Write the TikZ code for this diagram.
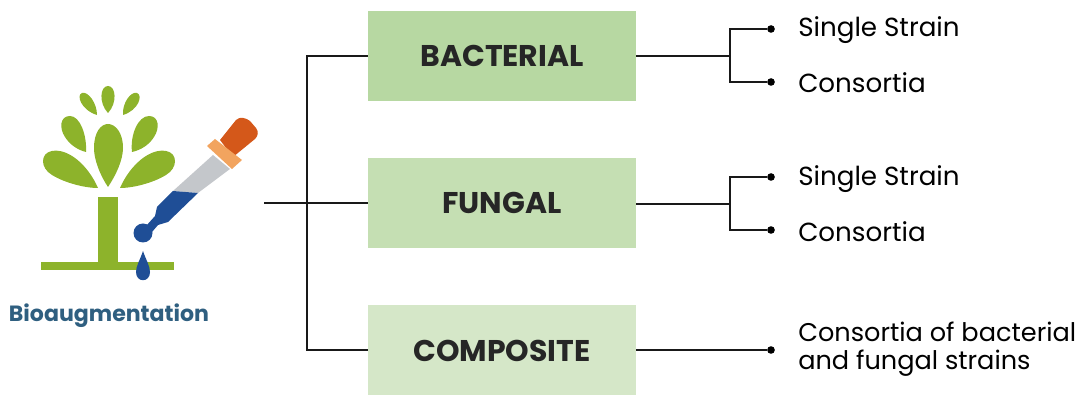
\documentclass[tikz,border=0pt]{standalone}
\usepackage{fontspec}
\setmainfont{Poppins}
\usepackage{tikz}
\tikzset{
  kindbox/.style={minimum width=6.7cm,minimum height=2.25cm,inner sep=0pt,text height=0.52cm,text depth=0pt,font=\fontsize{21.3}{24}\selectfont\bfseries,text=black!85},
  tipdot/.style={circle,fill=black,inner sep=0pt,minimum size=0.19cm},
  leaftext/.style={anchor=west,inner sep=0pt,align=left,font=\fontsize{18.6}{19.6}\selectfont},
  wire/.style={line width=1.6pt,black!90},
}
\definecolor{boxone}{HTML}{B7D8A2}
\definecolor{boxtwo}{HTML}{C5DFB3}
\definecolor{boxthree}{HTML}{D5E7C8}
\definecolor{plant}{HTML}{8DB32B}
\definecolor{dropblue}{HTML}{1F4E96}
\definecolor{capred}{HTML}{D4581A}
\definecolor{collar}{HTML}{F2A45F}
\definecolor{glass}{HTML}{C4C7CB}
\definecolor{labelblue}{HTML}{2F5F80}
\begin{document}
\begin{tikzpicture}[x=0.025cm,y=-0.025cm]
\useasboundingbox (0,0) rectangle (1082,398);
% plant
\fill[plant] (108,187) .. controls (100,175) and (94,160) .. (94,148) .. controls (94,132) and (101,124) .. (108,124) .. controls (115,124) and (123,132) .. (123,148) .. controls (123,160) and (116,175) .. (108,187) -- cycle;
\fill[plant] (98,188) .. controls (88,165) and (68,148) .. (52,151) .. controls (40,153) and (40,168) .. (52,175) .. controls (65,183) and (85,188) .. (98,188) -- cycle;
\fill[plant] (120,188) .. controls (130,165) and (150,148) .. (166,151) .. controls (178,153) and (178,168) .. (166,175) .. controls (153,183) and (133,188) .. (120,188) -- cycle;
\fill[plant] (86,152) .. controls (87,135) and (80,116) .. (70,116) .. controls (60,116) and (59,128) .. (65,137) .. controls (70,145) and (78,150) .. (86,152) -- cycle;
\fill[plant] (132,152) .. controls (130,135) and (138,116) .. (149,116) .. controls (159,116) and (160,128) .. (154,137) .. controls (149,145) and (141,150) .. (132,152) -- cycle;
\fill[plant] (108,113) .. controls (98.5,103) and (100,86) .. (108,86) .. controls (116,86) and (117.5,103) .. (108,113) -- cycle;
\fill[plant] (97,115) .. controls (97,103) and (88,91) .. (82,93) .. controls (76,95) and (81,110) .. (97,115) -- cycle;
\fill[plant] (123,115) .. controls (122,103) and (131,91) .. (137,93) .. controls (143,95) and (139,110) .. (123,115) -- cycle;
\fill[plant] (98,197) rectangle (118,262);
\fill[plant] (41,262) rectangle (174,270);
% dropper
\fill[glass] (213,155) -- (230,169) -- (198,193) -- (173,191) -- cycle;
\fill[dropblue] (173,191) -- (198,193) -- (168,222) -- (158,225) -- (152,232) -- (146,226) -- (155,216) -- (157,207) -- cycle;
\fill[dropblue] (143,233) circle (9.5);
\fill[capred] (220,140) -- (236,120) .. controls (240,116) and (246,118) .. (250,121) -- (256,128) .. controls (259,132) and (258,136) .. (255,139) -- (233,157) -- cycle;
\fill[collar] (207,146) -- (215,139) -- (242,160) -- (232,169) -- cycle;
\fill[dropblue] (143,251) .. controls (146,260) and (150,266) .. (150,272) .. controls (150,283) and (136,283) .. (136,272) .. controls (136,266) and (140,260) .. (143,251) -- cycle;
\node[inner sep=0pt,text=labelblue,font=\fontsize{15.7}{18}\selectfont\bfseries] (biolabel) at (109,316) {Bioaugmentation};
% boxes
\node[kindbox,fill=boxone] (bacterial) at (502,56) {BACTERIAL};
\node[kindbox,fill=boxtwo] (fungal) at (502,203) {FUNGAL};
\node[kindbox,fill=boxthree,text height=0.58cm] (composite) at (502,350) {COMPOSITE};
% left tree
\coordinate (start) at (264,203);
\coordinate (hub) at (307,203);
\draw[wire] (start) -- (fungal.west);
\draw[wire] (bacterial.west) -| (hub) |- (composite.west);
% ends
\node[tipdot] (bacone) at (771,29) {};
\node[tipdot] (bactwo) at (771,82) {};
\node[tipdot] (funone) at (771,177) {};
\node[tipdot] (funtwo) at (771,230) {};
\node[tipdot] (comone) at (771,350) {};
\coordinate (bachub) at (730,56);
\coordinate (funhub) at (730,204);
\draw[wire] (bacterial.east) -- (bachub);
\draw[wire] (bacone) -| (bachub) |- (bactwo);
\draw[wire] (fungal.east |- funhub) -- (funhub);
\draw[wire] (funone) -| (funhub) |- (funtwo);
\draw[wire] (composite.east |- comone) -- (comone);
\node[leaftext] (bacsingle) at (798,30) {Single Strain};
\node[leaftext] (baccons) at (798,83) {Consortia};
\node[leaftext] (funsingle) at (798,179) {Single Strain};
\node[leaftext] (funcons) at (798,232) {Consortia};
\node[leaftext,font=\fontsize{18.2}{19.6}\selectfont] (comcons) at (798,349) {Consortia of bacterial\\and fungal strains};
\end{tikzpicture}
\end{document}
